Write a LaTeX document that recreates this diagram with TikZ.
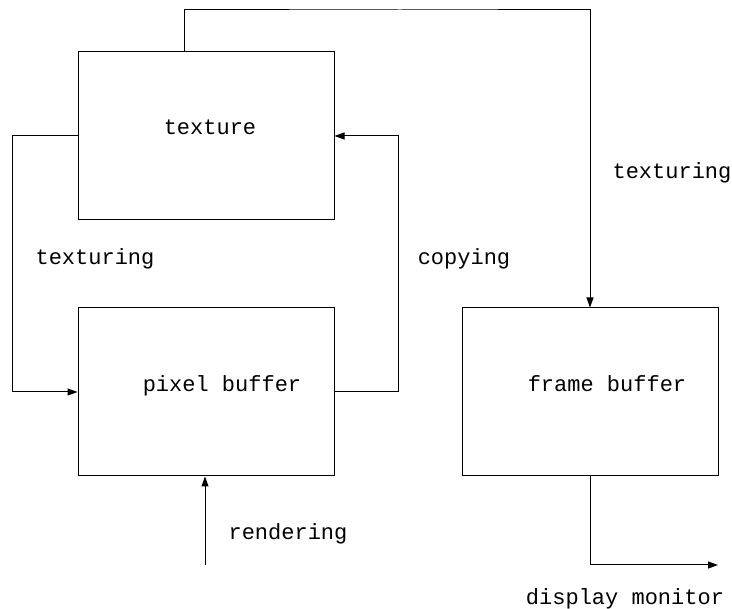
\documentclass[tikz,border=0pt]{standalone}
\usepackage{fontspec}
\newfontfamily\monofont{Liberation Mono}
\usetikzlibrary{arrows.meta,calc}
\tikzset{
  blockbox/.style={draw, line width=1pt, minimum width=256pt, minimum height=168pt, inner sep=0pt},
  lbl/.style={font=\monofont\fontsize{22}{24}\selectfont, inner sep=0pt, anchor=base},
  link/.style={line width=1pt},
  arr/.style={link, -{Triangle[length=10pt,width=7pt]}}
}
\begin{document}
\begin{tikzpicture}[x=1pt,y=-1pt]
  \useasboundingbox (0,0) rectangle (732,609);

  % buffers
  \node[blockbox] (texture) at (206,136) {};
  \node[blockbox] (pixel)   at (206,392) {};
  \node[blockbox] (frame)   at (590,392) {};

  % texts
  \node[lbl] (tTexture) at (210,135) {texture};
  \node[lbl] (tPixel)   at (222,392) {pixel buffer};
  \node[lbl] (tFrame)   at (607,392) {frame buffer};
  \node[lbl] (tTexL)    at (95,265)  {texturing};
  \node[lbl] (tCopy)    at (464,265) {copying};
  \node[lbl] (tTexR)    at (672,179) {texturing};
  \node[lbl] (tRender)  at (288,540) {rendering};
  \node[lbl] (tDisp)    at (625,605) {display monitor};

  % helper points for routing
  \coordinate (top)  at (400,10);
  \coordinate (lft)  at (12,0);
  \coordinate (rgt)  at (398,0);
  \coordinate (rsrc) at (205,565);
  \coordinate (dm)   at (718,565);

  % connectors
  \draw[arr] ([xshift=-22pt]texture.north) |- (top) -| (frame.north);
  \draw[arr] (texture.west) -- (texture.west -| lft) |- (pixel.west);
  \draw[arr] (pixel.east) -- (pixel.east -| rgt) |- (texture.east);
  \draw[arr] (rsrc) -- (rsrc |- pixel.south);
  \draw[arr] (frame.south) |- (dm);
\end{tikzpicture}
\end{document}
